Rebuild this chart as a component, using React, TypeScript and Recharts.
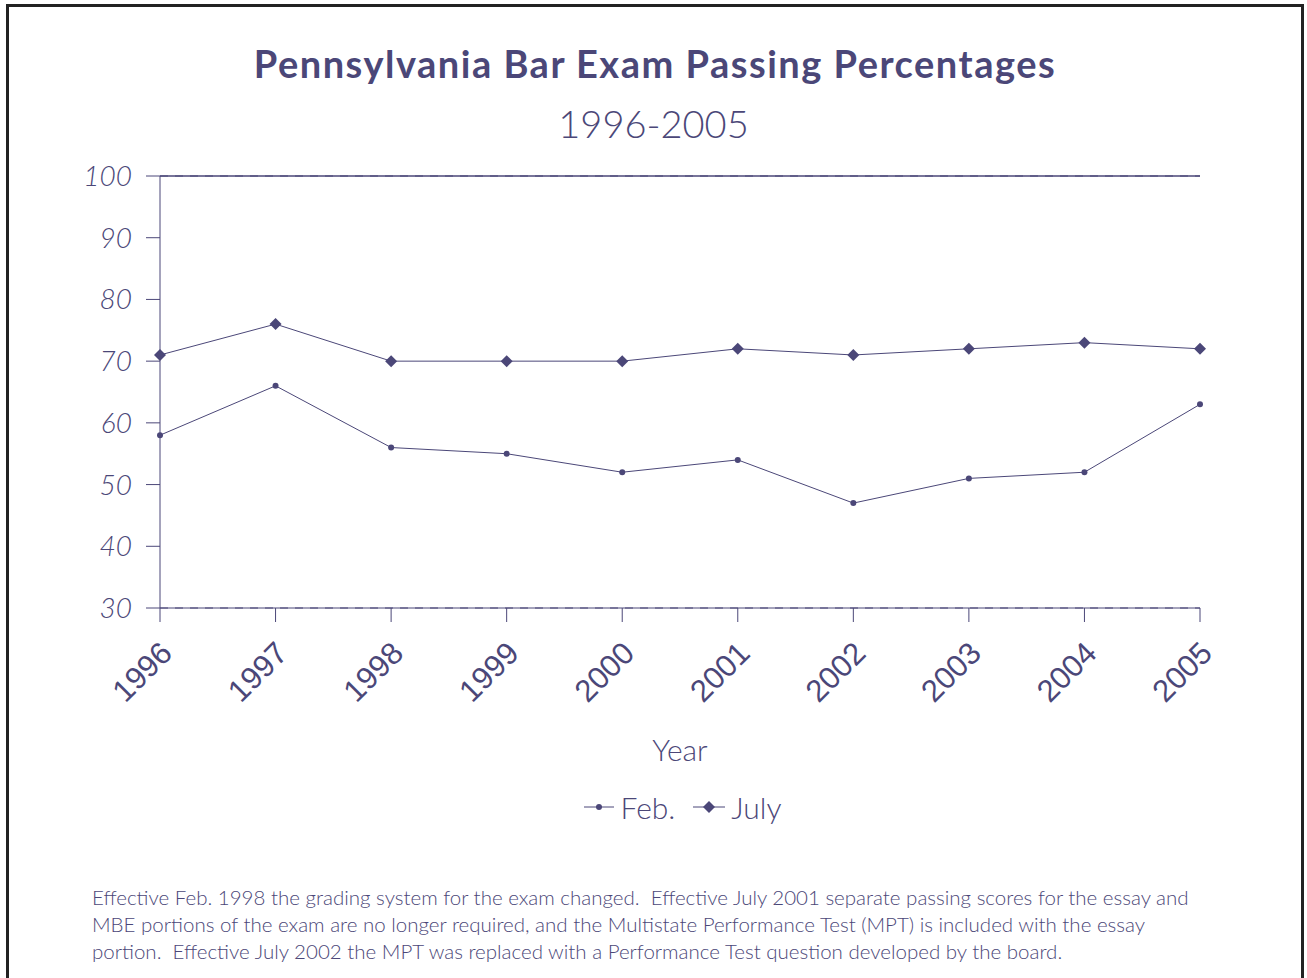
import React from "react";
import { LineChart, Line, XAxis, YAxis, CartesianGrid, ReferenceLine } from "recharts";

const years = ["1996", "1997", "1998", "1999", "2000", "2001", "2002", "2003", "2004", "2005"];
const febValues = [58, 66, 56, 55, 52, 54, 47, 51, 52, 63];
const julyValues = [71, 76, 70, 70, 70, 72, 71, 72, 73, 72];
const yTicks = [30, 40, 50, 60, 70, 80, 90, 100];

const data = years.map((y, i) => ({ year: y, feb: febValues[i], july: julyValues[i] }));

const C = "#4b4778";
const FONT = "Lato, 'Open Sans', sans-serif";

const Diamond = (props: any) => {
  const { cx, cy } = props;
  if (cx == null || cy == null) return null;
  const r = 6;
  return <path d={`M${cx},${cy - r}L${cx + r},${cy}L${cx},${cy + r}L${cx - r},${cy}Z`} fill={C} stroke="none" />;
};

const SmallDot = (props: any) => {
  const { cx, cy } = props;
  if (cx == null || cy == null) return null;
  return <circle cx={cx} cy={cy} r={3} fill={C} stroke="none" />;
};

const XTick = (props: any) => {
  const { x, y, payload } = props;
  const ax = x + 14;
  const ay = y + 31;
  return (
    <text
      x={ax}
      y={ay}
      textAnchor="end"
      transform={`rotate(-45, ${ax}, ${ay})`}
      fill={C}
      fontSize={31}
      fontFamily="'Liberation Sans', Arial, sans-serif"
    >
      {payload.value}
    </text>
  );
};

const YTick = (props: any) => {
  const { x, y, payload } = props;
  return (
    <text x={x - 12} y={y} dy={10} textAnchor="end" fill={C} fontSize={28} fontStyle="italic" fontFamily={FONT} fontWeight={300}>
      {payload.value}
    </text>
  );
};

export default function App() {
  return (
    <div style={{ position: "absolute", left: 0, top: 0, width: 1307, height: 978, background: "#fff", overflow: "hidden" }}>
      <div style={{ position: "absolute", left: 6, top: 4, width: 1298, height: 990, border: "3px solid #222", boxSizing: "border-box" }} />
      <div style={{ position: "absolute", left: 0, top: 40, width: 1310, textAlign: "center", color: C, fontFamily: FONT, fontWeight: 700, fontSize: 38, letterSpacing: 1.5 }}>
        Pennsylvania Bar Exam Passing Percentages
      </div>
      <div style={{ position: "absolute", left: 0, top: 100, width: 1307, textAlign: "center", color: C, fontFamily: FONT, fontWeight: 300, fontSize: 38 }}>
        1996-2005
      </div>
      <div style={{ position: "absolute", left: 0, top: 0 }}>
        <LineChart width={1307} height={978} data={data} margin={{ top: 176, right: 107, left: 0, bottom: 270 }}>
          <CartesianGrid horizontal vertical={false} stroke={C} strokeDasharray="8 7" strokeWidth={1} />
          <XAxis
            dataKey="year"
            padding={{ left: 0, right: 0 }}
            stroke={C}
            tickLine={{ stroke: C }}
            tickSize={14}
            tick={<XTick />}
            interval={0}
            height={100}
          />
          <YAxis
            yAxisId="left"
            domain={[30, 100]}
            ticks={yTicks}
            stroke={C}
            tickSize={14}
            tick={<YTick />}
            width={160}
            interval={0}
            allowDataOverflow
          />
          <YAxis yAxisId="right" orientation="right" domain={[30, 100]} ticks={yTicks} stroke={C} tick={false} tickLine={false} width={0} />
          <ReferenceLine yAxisId="left" y={100} stroke={C} strokeWidth={1.5} />
          <Line yAxisId="left" dataKey="feb" name="Feb." stroke={C} strokeWidth={1} dot={<SmallDot />} activeDot={false} isAnimationActive={false} />
          <Line yAxisId="left" dataKey="july" name="July" stroke={C} strokeWidth={1} dot={<Diamond />} activeDot={false} isAnimationActive={false} />
        </LineChart>
      </div>
      <div style={{ position: "absolute", left: 580, top: 731, width: 200, textAlign: "center", color: C, fontFamily: FONT, fontWeight: 300, fontSize: 30 }}>
        Year
      </div>
      <div style={{ position: "absolute", left: 0, top: 789, width: 1366, display: "flex", justifyContent: "center", alignItems: "center", color: C, fontFamily: FONT, fontSize: 30, fontWeight: 300 }}>
        <svg width={30} height={16}>
          <line x1={0} y1={8} x2={30} y2={8} stroke={C} strokeWidth={1} />
          <circle cx={15} cy={8} r={3} fill={C} />
        </svg>
        <span style={{ marginLeft: 6, marginRight: 18 }}>Feb.</span>
        <svg width={32} height={16}>
          <line x1={0} y1={8} x2={32} y2={8} stroke={C} strokeWidth={1} />
          <path d="M16,2L22,8L16,14L10,8Z" fill={C} />
        </svg>
        <span style={{ marginLeft: 6 }}>July</span>
      </div>
      <div style={{ position: "absolute", left: 92, top: 884, width: 1130, color: C, fontFamily: FONT, fontSize: 20.5, lineHeight: "27px", fontWeight: 300 }}>
        Effective Feb. 1998 the grading system for the exam changed.&nbsp; Effective July 2001 separate passing scores for the essay and MBE portions of the exam are no longer required, and the Multistate Performance Test (MPT) is included with the essay portion.&nbsp; Effective July 2002 the MPT was replaced with a Performance Test question developed by the board.
      </div>
    </div>
  );
}
